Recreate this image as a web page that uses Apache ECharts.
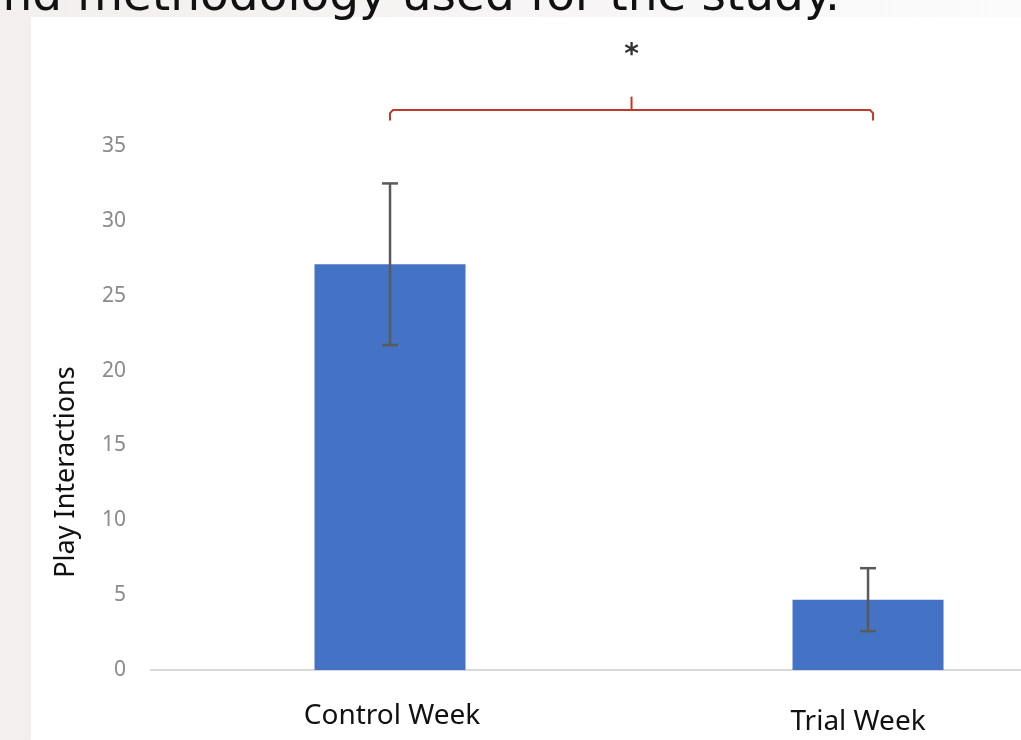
<!DOCTYPE html>
<html>
<head>
<meta charset="utf-8">
<script src="https://cdn.jsdelivr.net/npm/echarts@6/dist/echarts.min.js"></script>
<style>
html,body{margin:0;padding:0;background:#f3f1f0;}
#c{width:1021px;height:740px;}
</style>
</head>
<body>
<div id="c"></div>
<script>
const categories = ['Control Week', 'Trial Week'];
const means = [27.1, 4.7];
const errors = [5.4, 2.1];
const yTicks = [0, 35, 5];
const xRange = [-0.5, 1.32];
const bracketLevels = [36.7, 37.4, 38.3];
const starLevel = 41.0;
const titleText = 'and methodology used for the study.';
const yName = 'Play Interactions';

const barData = means.map((m, i) => [i, m]);
const errData = means.map((m, i) => [i, m - errors[i], m + errors[i]]);

const chart = echarts.init(document.getElementById('c'), null, {renderer: 'canvas'});
chart.setOption({
  animation: false,
  backgroundColor: {
    type: 'linear', x: 0, y: 0, x2: 1, y2: 0,
    colorStops: [{offset: 0, color: '#f2efee'}, {offset: 1, color: '#fbfbfb'}]
  },
  graphic: [
    {type: 'rect', z: -10, shape: {x: 31, y: 17, width: 1000, height: 730}, style: {fill: '#ffffff'}},
    {type: 'text', z: 10, x: 840, y: -2, style: {text: titleText, font: '47px "DejaVu Sans"', fill: '#111', align: 'right', verticalAlign: 'middle'}},
    {type: 'text', z: 10, x: 66, y: 472, rotation: Math.PI / 2, style: {text: yName, font: '27px "Noto Sans"', fill: '#111', align: 'center', verticalAlign: 'middle'}}
  ],
  grid: {left: 151, top: 146, bottom: 70, right: 0, containLabel: false},
  xAxis: {
    type: 'value',
    min: xRange[0], max: xRange[1],
    axisLine: {show: true, onZero: false, lineStyle: {color: '#d9d9d9', width: 2}},
    axisTick: {show: false},
    splitLine: {show: false},
    axisLabel: {
      margin: 32,
      customValues: categories.map((c, i) => i),
      showMinLabel: true, showMaxLabel: true,
      formatter: (v) => {
        const i = Math.round(v);
        return i === 0 ? '{a|' + categories[i] + '}' : '{b|' + categories[i] + '}';
      },
      rich: {
        a: {fontFamily: 'Noto Sans', fontSize: 28, color: '#111', padding: [0, 0, 0, 4]},
        b: {fontFamily: 'Noto Sans', fontSize: 28, color: '#111', padding: [6, 20, 0, 0]}
      }
    }
  },
  yAxis: {
    type: 'value',
    min: yTicks[0], max: yTicks[1], interval: yTicks[2],
    axisLine: {show: false},
    axisTick: {show: false},
    splitLine: {show: false},
    axisLabel: {margin: 25, color: '#8a8a8a', fontFamily: 'Noto Sans', fontSize: 21}
  },
  series: [
    {
      type: 'bar',
      data: barData,
      barWidth: 151,
      itemStyle: {color: '#4472c4'},
      z: 2
    },
    {
      type: 'custom',
      data: errData,
      z: 5,
      clip: false,
      renderItem: (params, api) => {
        const x = api.value(0);
        const lo = api.coord([x, api.value(1)]);
        const hi = api.coord([x, api.value(2)]);
        const w = 8;
        const st = {stroke: '#5a5a5a', lineWidth: 2.5};
        return {
          type: 'group',
          children: [
            {type: 'line', shape: {x1: lo[0], y1: lo[1], x2: hi[0], y2: hi[1]}, style: st},
            {type: 'line', shape: {x1: hi[0] - w, y1: hi[1], x2: hi[0] + w, y2: hi[1]}, style: st},
            {type: 'line', shape: {x1: lo[0] - w, y1: lo[1], x2: lo[0] + w, y2: lo[1]}, style: st}
          ]
        };
      }
    },
    {
      type: 'custom',
      data: [[0, 1]],
      z: 5,
      clip: false,
      renderItem: (params, api) => {
        const a = api.coord([0, bracketLevels[0]]);
        const b = api.coord([1, bracketLevels[1]]);
        const t = api.coord([0, bracketLevels[2]]);
        const s = api.coord([0, starLevel]);
        const x1 = a[0], x2 = b[0] + 5, xm = (x1 + x2) / 2;
        const st = {stroke: '#c0392b', lineWidth: 2, fill: null};
        return {
          type: 'group',
          children: [
            {type: 'polyline', shape: {points: [[x1, a[1]], [x1, b[1] + 3], [x1 + 3, b[1]], [x2 - 3, b[1]], [x2, b[1] + 3], [x2, a[1]]]}, style: st},
            {type: 'line', shape: {x1: xm, y1: b[1], x2: xm, y2: t[1]}, style: st},
            {type: 'text', x: xm, y: s[1], style: {text: '*', font: 'bold 28px "DejaVu Sans"', fill: '#333', align: 'center', verticalAlign: 'middle'}}
          ]
        };
      }
    }
  ]
});
</script>
</body>
</html>
